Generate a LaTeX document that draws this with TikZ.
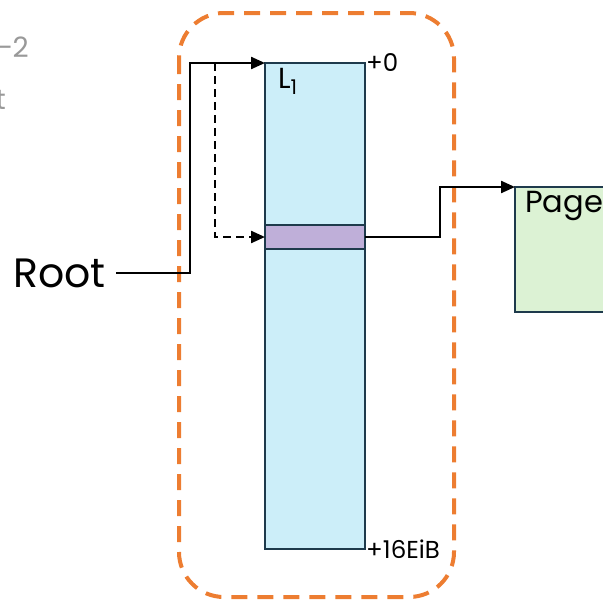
\documentclass[tikz,border=0pt]{standalone}
\usepackage{fontspec}
\setmainfont{Poppins}
\usetikzlibrary{arrows.meta,positioning}
\definecolor{fenceorange}{HTML}{ED7D31}
\definecolor{tableblue}{HTML}{CCEEF9}
\definecolor{entrypurple}{HTML}{BFAFD9}
\definecolor{pagegreen}{HTML}{DCF2D4}
\definecolor{edgenavy}{HTML}{1E3A4C}
\tikzset{
  block/.style={draw=edgenavy, line width=1.4pt, inner sep=0pt, outer sep=0pt},
  link/.style={line width=2.3pt, -{Triangle[length=14pt,width=12pt]}},
  offs/.style={font=\fontsize{24.5}{24.5}\selectfont, inner sep=1pt},
  faded/.style={text=gray!80, font=\fontsize{28}{28}\selectfont, inner sep=0pt}
}
\begin{document}
\begin{tikzpicture}[x=1pt, y=-1pt]
    \useasboundingbox (0,0) rectangle (603,600);
    \clip (0,0) rectangle (603,600);
    \node[faded, anchor=base east] (fadea) at (29,57) {−2};
    \node[faded, anchor=base east] (fadeb) at (6,109) {t};
    \draw[fenceorange, line width=4pt, rounded corners=45pt, dash pattern=on 16pt off 10pt]
      (179,13) rectangle (454,597);
    \node[block, fill=tableblue, minimum width=100pt, minimum height=486pt, anchor=north west] (l1) at (265,63) {};
    \node[block, fill=entrypurple, minimum width=100pt, minimum height=24pt, anchor=north west] (entry) at (265,225) {};
    \node[font=\fontsize{29}{29}\selectfont, anchor=north west, inner sep=0pt] (l1name) at (278,68) {L\textsubscript{1}};
    \node[offs, anchor=west] (top) at (l1.north east) {+0};
    \node[offs, anchor=west] (bottom) at (l1.south east) {+16EiB};
    \node[block, fill=pagegreen, minimum width=100pt, minimum height=125pt, anchor=north west] (page) at (515,187) {};
    \node[font=\fontsize{30.5}{30.5}\selectfont, anchor=north west, inner sep=0pt] (pagename) at (525,191) {Page};
    \node[font=\fontsize{41}{41}\selectfont, anchor=east, inner sep=0pt] (root) at (106,273) {Root};
    \coordinate (split) at (215,63);
    \draw[link, shorten <=10pt] (root.east) -- ++(84,0) |- (l1.north west);
    \draw[link, dash pattern=on 8pt off 5pt] (split) |- (entry.west);
    \draw[link] (entry.east) -- ++(75,0) |- (page.north west);
\end{tikzpicture}
\end{document}
